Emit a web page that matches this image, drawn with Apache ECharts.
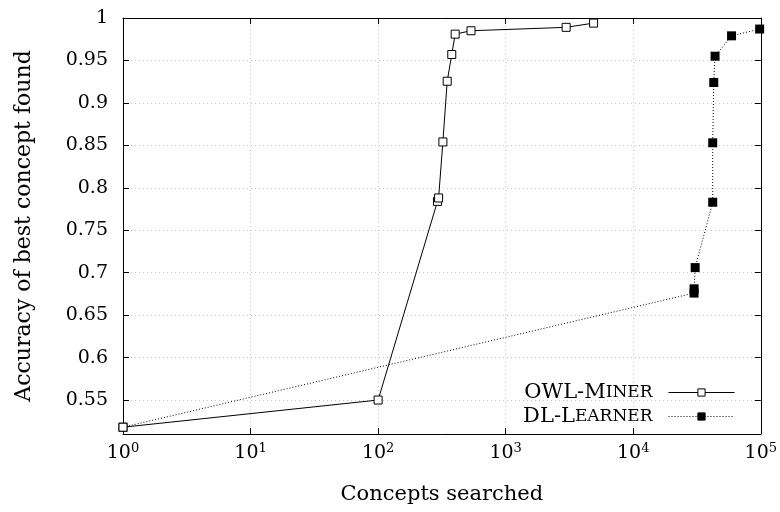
<!DOCTYPE html>
<html>
<head>
<meta charset="utf-8">
<script src="https://cdn.jsdelivr.net/npm/echarts@6/dist/echarts.min.js"></script>
<style>
  html, body { margin: 0; padding: 0; background: #fff; }
  #chart { width: 780px; height: 512px; }
</style>
</head>
<body>
<div id="chart"></div>
<script>
// concepts searched (x, log scale) and accuracy of best concept found (y)
const owlX = [1, 100, 292, 298, 322, 348, 378, 402, 535, 2980, 4890];
const owlY = [0.518, 0.55, 0.784, 0.788, 0.854, 0.9255, 0.957, 0.981, 0.985, 0.989, 0.994];
const dlX = [1, 30000, 30000, 30600, 42000, 42000, 42800, 43800, 59000, 98000];
const dlY = [0.518, 0.676, 0.681, 0.706, 0.783, 0.853, 0.924, 0.955, 0.979, 0.987];
const seriesNames = ["OWL-Miner", "DL-Learner"];

const FONT = "DejaVu Serif";
const zip = (xs, ys) => xs.map((x, i) => [x, ys[i]]);

const chart = echarts.init(document.getElementById("chart"));

const axisBase = {
  axisLine: { show: true, onZero: false, lineStyle: { color: "#000", width: 1 } },
  axisTick: { show: true, inside: true, length: 6, lineStyle: { color: "#000" } },
};

chart.setOption({
  animation: false,
  backgroundColor: "#fff",
  textStyle: { fontFamily: FONT },
  grid: { left: 123, right: 15, top: 18, bottom: 78 },
  legend: {
    orient: "vertical",
    right: 40,
    top: 377,
    align: "right",
    itemWidth: 66,
    itemHeight: 9,
    itemGap: 3,
    data: seriesNames,
    lineStyle: { width: 1 },
    itemStyle: { borderWidth: 1 },
    formatter: (name) => {
      if (name === "OWL-Miner") return "{n|OWL-M}{sc|INER}";
      return "{n|DL-L}{sc|EARNER}";
    },
    textStyle: {
      color: "#000",
      rich: {
        n: { fontFamily: FONT, fontSize: 21, color: "#000", lineHeight: 24 },
        sc: { fontFamily: FONT, fontSize: 17, color: "#000", lineHeight: 24, padding: [0, 11, 0, 0] },
      },
    },
  },
  xAxis: [
    {
      ...axisBase,
      type: "log",
      logBase: 10,
      min: 1,
      max: 100000,
      position: "bottom",
      name: "Concepts searched",
      nameLocation: "middle",
      nameGap: 50,
      nameTextStyle: { fontFamily: FONT, fontSize: 21, color: "#000" },
      axisLabel: {
        margin: 8,
        color: "#000",
        formatter: (v) => "{b|10}{s|" + Math.round(Math.log10(v)) + "}",
        rich: {
          b: { fontFamily: FONT, fontSize: 19, color: "#000", lineHeight: 22 },
          s: { fontFamily: FONT, fontSize: 13, color: "#000", verticalAlign: "top", lineHeight: 14 },
        },
      },
      splitLine: { show: true, lineStyle: { color: "#c4c4c4", type: [1, 3], width: 1 } },
    },
    {
      ...axisBase,
      type: "log",
      logBase: 10,
      min: 1,
      max: 100000,
      position: "top",
      axisLabel: { show: false },
      splitLine: { show: false },
    },
  ],
  yAxis: [
    {
      ...axisBase,
      type: "value",
      min: 0.51,
      max: 1,
      splitNumber: 10,
      minInterval: 0.05,
      maxInterval: 0.05,
      name: "Accuracy of best concept found",
      nameLocation: "middle",
      nameGap: 88,
      nameTextStyle: { fontFamily: FONT, fontSize: 22, color: "#000" },
      axisLabel: { margin: 15, color: "#000", fontFamily: FONT, fontSize: 19, showMinLabel: false },
      splitLine: { show: true, lineStyle: { color: "#c4c4c4", type: [1, 3], width: 1 } },
    },
    {
      ...axisBase,
      type: "value",
      min: 0.51,
      max: 1,
      splitNumber: 10,
      minInterval: 0.05,
      maxInterval: 0.05,
      position: "right",
      axisLabel: { show: false },
      splitLine: { show: false },
    },
  ],
  series: [
    {
      name: "OWL-Miner",
      type: "line",
      data: zip(owlX, owlY),
      symbol: "rect",
      symbolSize: 8,
      showAllSymbol: true,
      lineStyle: { color: "#000", width: 1 },
      itemStyle: { color: "#fff", borderColor: "#000", borderWidth: 1 },
      z: 3,
    },
    {
      name: "DL-Learner",
      type: "line",
      data: zip(dlX, dlY),
      symbol: "rect",
      symbolSize: 9,
      showAllSymbol: true,
      lineStyle: { color: "#000", width: 1, type: [1, 2] },
      itemStyle: { color: "#000", borderColor: "#000", borderWidth: 0 },
      z: 2,
    },
  ],
});
</script>
</body>
</html>
